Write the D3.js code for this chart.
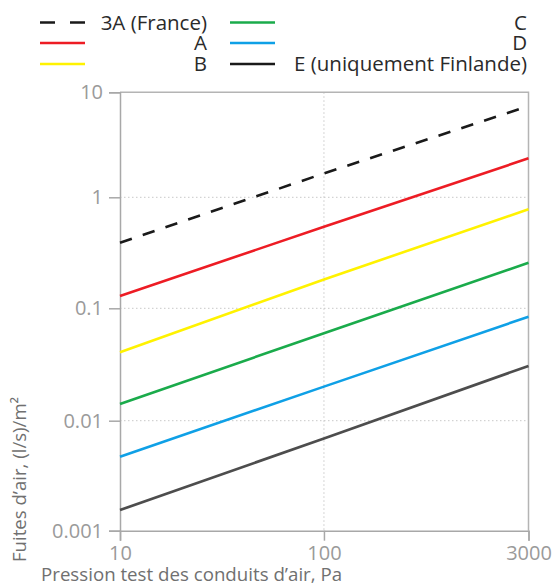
<!DOCTYPE html>
<html>
<head>
<meta charset="utf-8">
<script src="https://cdn.jsdelivr.net/npm/d3@7"></script>
<style>
  html, body { margin: 0; padding: 0; background: #fff; }
  svg { display: block; font-family: "Open Sans", "Noto Sans", sans-serif; }
</style>
</head>
<body>
<svg id="chart" width="553" height="585"></svg>
<script>
// Test pressures (Pa) at which each leakage class is plotted
const pressures = [10, 100, 3000];

// Air leakage classes, (l/s)/m² at each pressure
const classNames = ["3A (France)", "A", "B", "C", "D", "E (uniquement Finlande)"];
const leak3A = [0.39, 1.69, 7.39];
const leakA  = [0.129, 0.543, 2.35];
const leakB  = [0.0406, 0.182, 0.78];
const leakC  = [0.0141, 0.060, 0.257];
const leakD  = [0.0047, 0.0201, 0.0842];
const leakE  = [0.00154, 0.0069, 0.0307];

const classColors = ["#1a1a1a", "#ed1c24", "#fff200", "#1aab4b", "#0fa0e6", "#4d4d4d"];
const legendSwatchColors = ["#1a1a1a", "#ed1c24", "#fff200", "#1aab4b", "#0fa0e6", "#1a1a1a"];

// Axis ticks
const xTicks = [10, 100, 3000];
const xTickLabels = ["10", "100", "3000"];
const yTicks = [0.001, 0.01, 0.1, 1, 10];
const yTickLabels = ["0.001", "0.01", "0.1", "1", "10"];

const xTitle = "Pression test des conduits d’air, Pa";
const yTitle = "Fuites d’air, (l/s)/m²";

const series = [leak3A, leakA, leakB, leakC, leakD, leakE];

const svg = d3.select("#chart");

const plotLeft = 120, plotRight = 528.5, plotTop = 92.3, plotBottom = 530.7;

// Piecewise log scales: the pressure ticks are evenly spaced
const x = d3.scaleLog()
  .domain(xTicks)
  .range([plotLeft, (plotLeft + plotRight) / 2 - 0.3, plotRight]);

const y = d3.scaleLog()
  .domain(yTicks)
  .range([plotBottom, 420.7, 308.3, 197.3, plotTop]);

const axisColor = "#a8a8a8";
const tickTextColor = "#9a9a9a";

// Dotted grid
const grid = svg.append("g");
grid.selectAll("line.hg")
  .data(yTicks.slice(1, -1))
  .join("line")
  .attr("x1", plotLeft).attr("x2", plotRight)
  .attr("y1", d => y(d)).attr("y2", d => y(d))
  .attr("stroke", "#c8c8c8").attr("stroke-width", 1)
  .attr("stroke-dasharray", "1.5,2.5");
grid.selectAll("line.vg")
  .data(xTicks.slice(1, -1))
  .join("line")
  .attr("x1", d => x(d)).attr("x2", d => x(d))
  .attr("y1", plotTop).attr("y2", plotBottom)
  .attr("stroke", "#c8c8c8").attr("stroke-width", 1)
  .attr("stroke-dasharray", "1.5,2.5");

// Frame (top and right edges)
svg.append("path")
  .attr("d", `M${plotLeft},${plotTop}H${plotRight}V${plotBottom}`)
  .attr("fill", "none").attr("stroke", "#b4b4b4").attr("stroke-width", 1.5);

// Axes
const xAxis = d3.axisBottom(x)
  .tickValues(xTicks)
  .tickFormat((d, i) => xTickLabels[i])
  .tickSize(10).tickPadding(5);
const gx = svg.append("g").attr("transform", `translate(0,${plotBottom})`).call(xAxis);

const yAxis = d3.axisLeft(y)
  .tickValues(yTicks)
  .tickFormat((d, i) => yTickLabels[i])
  .tickSize(11).tickPadding(6);
const gy = svg.append("g").attr("transform", `translate(${plotLeft},0)`).call(yAxis);

[gx, gy].forEach(g => {
  g.select(".domain").attr("stroke", axisColor).attr("stroke-width", 1.5);
  g.selectAll(".tick line").attr("stroke", axisColor).attr("stroke-width", 1.5);
  g.selectAll(".tick text")
    .attr("fill", tickTextColor)
    .style("font-family", "'Open Sans', sans-serif")
    .style("font-size", "20px");
});

// Leakage class lines
const line = d3.line()
  .x((d, i) => x(pressures[i]))
  .y(d => y(d));

svg.append("g").selectAll("path")
  .data(series)
  .join("path")
  .attr("d", d => line(d))
  .attr("fill", "none")
  .attr("stroke", (d, i) => classColors[i])
  .attr("stroke-width", 2.6)
  .attr("stroke-dasharray", (d, i) => i === 0 ? "12.5,11.5" : null);

// Axis titles
svg.append("text")
  .attr("x", 41)
  .attr("y", 580.5)
  .attr("fill", "#707070")
  .style("font-size", "18.7px")
  .text(xTitle);

svg.append("text")
  .attr("transform", "translate(26,562) rotate(-90)")
  .attr("fill", "#707070")
  .style("font-size", "18.6px")
  .text(yTitle);

// Legend: two columns of three entries
const legend = svg.append("g");
const colX = [40, 230];
const colTextEnd = [207, 527];
const rowY = [22.5, 43, 64];
classNames.forEach((name, i) => {
  const col = Math.floor(i / 3), row = i % 3;
  const g = legend.append("g");
  g.append("line")
    .attr("x1", colX[col]).attr("x2", colX[col] + 45)
    .attr("y1", rowY[row]).attr("y2", rowY[row])
    .attr("stroke", legendSwatchColors[i])
    .attr("stroke-width", 2.6)
    .attr("stroke-dasharray", i === 0 ? "15,15" : null);
  g.append("text")
    .attr("x", colTextEnd[col])
    .attr("y", rowY[row])
    .attr("dy", "0.35em")
    .attr("text-anchor", "end")
    .attr("fill", "#2a2a2a")
    .style("font-size", "20.5px")
    .text(name);
});
</script>
</body>
</html>
